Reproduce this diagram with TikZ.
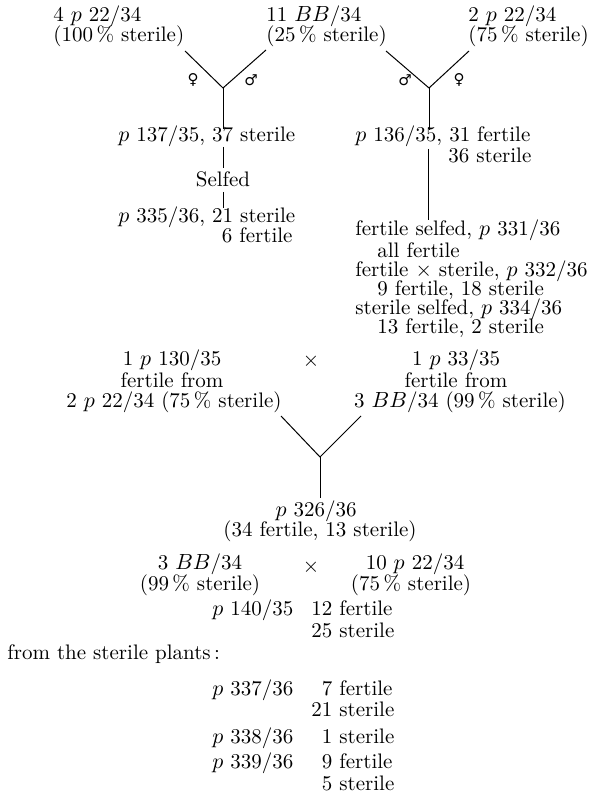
\documentclass[tikz,border=0pt]{standalone}
\usepackage{fontspec}
\newfontfamily\symfont{DejaVu Sans}
\begin{document}
\begin{tikzpicture}[x=0.5pt,y=-0.5pt,
  every node/.style={inner sep=0pt, font=\fontsize{10.5}{12}\selectfont},
  lw/.style={anchor=base west},
  lc/.style={anchor=base},
  sym/.style={font=\fontsize{7.5}{8}\selectfont\symfont, anchor=center},
  conn/.style={line width=0.5pt, black}]
\useasboundingbox (0,0) rectangle (592,795);
% top labels
\node[lw] (a1) at (53,22) {4 $p$ 22/34};
\node[lw] (a2) at (53,42) {(100\,\% sterile)};
\node[lw] (b1) at (266,22) {11 $BB$/34};
\node[lw] (b2) at (266,42) {(25\,\% sterile)};
\node[lw] (c1) at (468,22) {2 $p$ 22/34};
\node[lw] (c2) at (468,42) {(75\,\% sterile)};
% first cross
\coordinate (y1l) at (185,51);
\coordinate (y1j) at (223,88);
\coordinate (y1r) at (266,50);
\draw[conn] (y1l) -- (y1j) -- (y1r);
\node[sym] (f1) at (193,80) {♀};
\node[sym] (m1) at (251,80) {♂};
% second cross
\coordinate (y2l) at (386,51);
\coordinate (y2j) at (429,88);
\coordinate (y2r) at (469,51);
\draw[conn] (y2l) -- (y2j) -- (y2r);
\node[sym] (m2) at (405,80) {♂};
\node[sym] (f2) at (459,80) {♀};
% left column
\coordinate (d1t) at (223,129);
\draw[conn] (y1j) -- (d1t);
\node[lw] (d1) at (118,142) {$p$ 137/35, 37 sterile};
\coordinate (d1b) at (223,147);
\coordinate (selt) at (223,168);
\draw[conn] (d1b) -- (selt);
\node[lc] (selfed) at (223,187) {Selfed};
\coordinate (selb) at (223,192);
\coordinate (d2t) at (223,208);
\draw[conn] (selb) -- (d2t);
\node[lw] (d2) at (118,223) {$p$ 335/36, 21 sterile};
\node[lw] (d3) at (211,243) {\phantom{2}6 fertile};
% right column
\coordinate (e1t) at (429,130);
\draw[conn] (y2j) -- (e1t);
\node[lw] (e1) at (355,142) {$p$ 136/35, 31 fertile};
\node[lw] (e2) at (448,163) {36 sterile};
\coordinate (e1b) at (428,149);
\coordinate (g1t) at (428,220);
\draw[conn] (e1b) -- (g1t);
\node[lw] (g1) at (355,236) {fertile selfed, $p$ 331/36};
\node[lw] (g2) at (377,257.2) {all fertile};
\node[lw] (g3) at (355,276.4) {fertile × sterile, $p$ 332/36};
\node[lw] (g4) at (377,295.6) {9 fertile, 18 sterile};
\node[lw] (g5) at (355,314.8) {sterile selfed, $p$ 334/36};
\node[lw] (g6) at (377,334) {13 fertile, 2 sterile};
% middle cross
\node[lc] (h1) at (172,366) {1 $p$ 130/35};
\node[lc] (h2) at (172,387) {fertile from};
\node[lc] (h3) at (174,408) {2 $p$ 22/34 (75\,\% sterile)};
\node[lc] (x1) at (311,367) {×};
\node[lc] (i1) at (456,366) {1 $p$ 33/35};
\node[lc] (i2) at (456,387) {fertile from};
\node[lc] (i3) at (460,408) {3 $BB$/34 (99\,\% sterile)};
\coordinate (y3l) at (281,416);
\coordinate (y3j) at (320,457);
\coordinate (y3r) at (361,416);
\draw[conn] (y3l) -- (y3j) -- (y3r);
\coordinate (k1t) at (320,498);
\draw[conn] (y3j) -- (k1t);
\node[lc] (k1) at (316,516) {$p$ 326/36};
\node[lc] (k2) at (320,536) {(34 fertile, 13 sterile)};
% bottom
\node[lc] (l1) at (200,569) {3 $BB$/34};
\node[lc] (l2) at (200,590) {(99\,\% sterile)};
\node[lc] (x2) at (311,572) {×};
\node[lc] (n1) at (415,569) {10 $p$ 22/34};
\node[lc] (n2) at (411,590) {(75\,\% sterile)};
\node[lw] (o1) at (212,615) {$p$ 140/35};
\node[lw] (o2) at (311,615) {12 fertile};
\node[lw] (o3) at (311,637) {25 sterile};
\node[lw] (fr) at (7,659) {from the sterile plants\,:};
\node[lw] (q1) at (212,695) {$p$ 337/36};
\node[lw] (q2) at (311,695) {\phantom{2}7 fertile};
\node[lw] (q3) at (311,716) {21 sterile};
\node[lw] (r1) at (212,743) {$p$ 338/36};
\node[lw] (r2) at (311,743) {\phantom{2}1 sterile};
\node[lw] (s1) at (212,768) {$p$ 339/36};
\node[lw] (s2) at (311,768) {\phantom{2}9 fertile};
\node[lw] (s3) at (311,790) {\phantom{2}5 sterile};
\end{tikzpicture}
\end{document}
